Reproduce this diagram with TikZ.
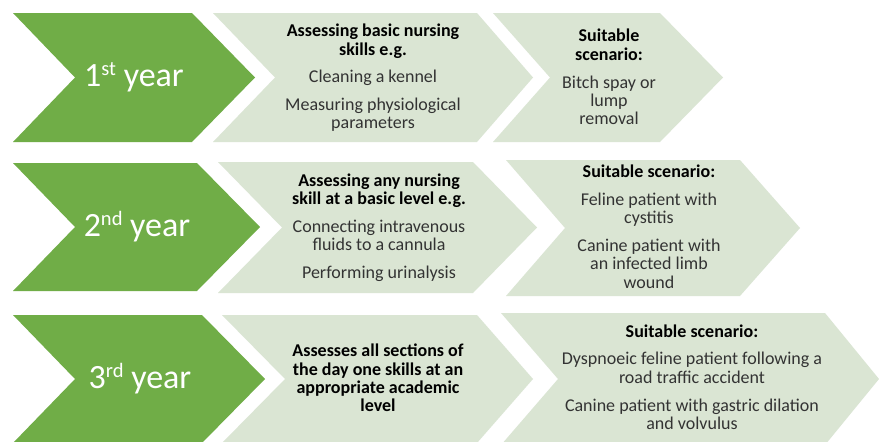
\documentclass[tikz,border=0pt]{standalone}
\usepackage{fontspec}
\setmainfont{Carlito}
\definecolor{gr}{HTML}{70AD47}
\definecolor{lt}{HTML}{DAE5D3}
\definecolor{bodytxt}{HTML}{333333}
\newcommand\chevshape[7]{\fill[#7] (#1,#5) -- (#3,#5) -- (#4,{(#5+#6)/2}) -- (#3,#6) -- (#1,#6) -- (#2,{(#5+#6)/2}) -- cycle;}
\newcommand\hd[1]{{\color{black}\bfseries #1}}
\newcommand\yr[2]{#1\raisebox{11pt}{\fontsize{20.5}{20}\selectfont #2}~year}
\begin{document}
\begin{tikzpicture}[x=1pt,y=-1pt,
  bodytext/.style={align=center,text=bodytxt,font=\fontsize{18}{18.3}\selectfont,inner sep=0pt},
  yeartext/.style={text=white,font=\fontsize{34}{36}\selectfont,inner sep=0pt}]
\fill[white] (0,0) rectangle (879,442);
\useasboundingbox (0,0) rectangle (879,442);
\clip (0,0) rectangle (879,442);
% row 1
\chevshape{13}{75}{192}{255}{13}{142}{gr}
\chevshape{213}{275}{477}{533}{13}{142}{lt}
\chevshape{493}{550}{660}{723}{13}{142}{lt}
% row 2
\chevshape{13}{75}{197}{260}{163}{291}{gr}
\chevshape{218}{282}{473}{537}{162}{293}{lt}
\chevshape{506}{565}{740}{800}{160}{296}{lt}
% row 3
\chevshape{13}{75}{202}{265}{315}{443}{gr}
\chevshape{222}{285}{477}{533}{315}{443}{lt}
\chevshape{501}{558}{825}{879}{313}{445}{lt}
% texts
\node[yeartext] (y1) at (134,77) {\yr{1}{st}};
\node[yeartext] (y2) at (137,227) {\yr{2}{nd}};
\node[yeartext] (y3) at (140,379) {\yr{3}{rd}};
\node[bodytext] (s1) at (373,78) {\hd{Assessing basic nursing}\\\hd{skills e.g.}\\[9.5pt]Cleaning a kennel\\[9.5pt]Measuring physiological\\parameters};
\node[bodytext] (c1) at (609,77) {\hd{Suitable}\\\hd{scenario:}\\[9.5pt]Bitch spay or\\lump\\removal};
\node[bodytext] (s2) at (379,227.5) {\hd{Assessing any nursing}\\\hd{skill at a basic level e.g.}\\[9.5pt]Connecting intravenous\\fluids to a cannula\\[9.5pt]Performing urinalysis};
\node[bodytext] (c2) at (649,226.5) {\hd{Suitable scenario:}\\[9.5pt]Feline patient with\\cystitis\\[9.5pt]Canine patient with\\an infected limb\\wound};
\node[bodytext] (s3) at (378,378) {\hd{Assesses all sections of}\\\hd{the day one skills at an}\\\hd{appropriate academic}\\\hd{level}};
\node[bodytext] (c3) at (692,377) {\hd{Suitable scenario:}\\[9.5pt]Dyspnoeic feline patient following a\\road traffic accident\\[9.5pt]Canine patient with gastric dilation\\and volvulus};
\end{tikzpicture}
\end{document}
